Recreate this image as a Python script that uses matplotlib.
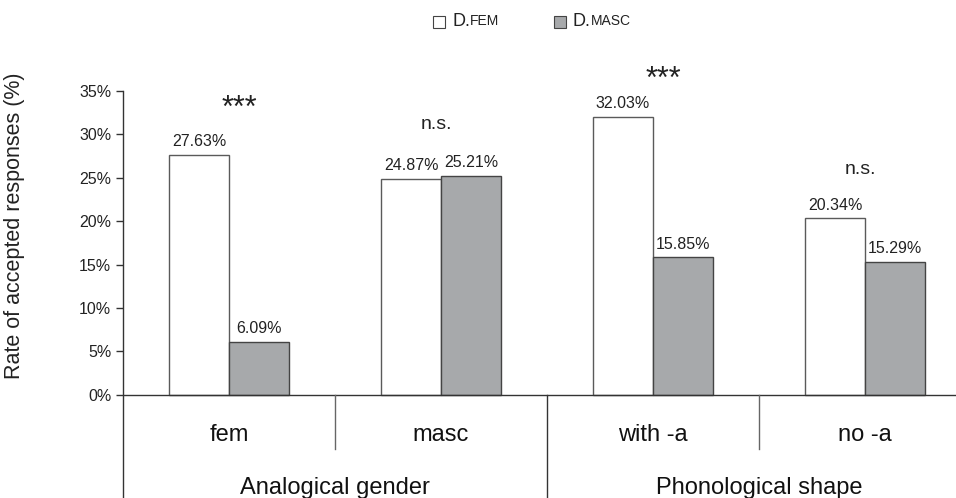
import matplotlib
matplotlib.use("Agg")
import matplotlib.pyplot as plt
from matplotlib.patches import Rectangle

plt.rcParams['font.family'] = ['Liberation Sans', 'DejaVu Sans']

categories = ["fem", "masc", "with -a", "no -a"]
groups = ["Analogical gender", "Phonological shape"]
d_fem = [27.63, 24.87, 32.03, 20.34]
d_masc = [6.09, 25.21, 15.85, 15.29]
sig_labels = ["***", "n.s.", "***", "n.s."]
sig_y = [32.9, 31.1, 36.3, 25.9]
y_ticks = [0, 5, 10, 15, 20, 25, 30, 35]

fem_color = "white"
masc_color = "#a7a9ab"
edge_color = "#5a5a5a"
line_color = "#333333"

fig = plt.figure(figsize=(9.56, 4.98), dpi=100)
# axes run past the right edge of the figure, as in the original
ax = fig.add_axes([123 / 956, 0.0, (971 - 123) / 956, 1 - 91 / 498])

x = list(range(len(categories)))
w = 0.283
ax.bar([i - w / 2 for i in x], d_fem, width=w, color=fem_color,
       edgecolor=edge_color, linewidth=1)
ax.bar([i + w / 2 for i in x], d_masc, width=w, color=masc_color,
       edgecolor="#444444", linewidth=1)

# value labels
for i in x:
    ax.annotate(f"{d_fem[i]:.2f}%", (i - w / 2, d_fem[i]), xytext=(0, 4),
                textcoords="offset points", ha="center", va="bottom",
                fontsize=11.5, color="#222222")
    ax.annotate(f"{d_masc[i]:.2f}%", (i + w / 2, d_masc[i]), xytext=(0, 4),
                textcoords="offset points", ha="center", va="bottom",
                fontsize=11.5, color="#222222")

# significance marks
for i in x:
    if sig_labels[i] == "***":
        ax.text(i + 0.05, sig_y[i], sig_labels[i], ha="center", va="center",
                fontsize=22, color="#222222")
    else:
        ax.text(i - 0.02, sig_y[i], sig_labels[i], ha="center", va="center",
                fontsize=14, color="#222222")

ax.set_xlim(-0.5, 3.5)
ax.set_ylim(-11.9, 35)

ax.axhline(0, color=line_color, linewidth=1)

# separators under the baseline
ax.plot([0.5, 0.5], [0, -6.3], color="#666666", linewidth=1)
ax.plot([2.5, 2.5], [0, -6.3], color="#666666", linewidth=1)
ax.plot([1.5, 1.5], [0, -12], color=line_color, linewidth=1)

for i in x:
    ax.text(i, -4.65, categories[i], ha="center", va="center", fontsize=17,
            color="#111111")
ax.text(0.5, -10.8, groups[0], ha="center", va="center", fontsize=17,
        color="#111111")
ax.text(2.5, -10.8, groups[1], ha="center", va="center", fontsize=17,
        color="#111111")

ax.set_yticks(y_ticks)
ax.set_yticklabels([f"{t}%" for t in y_ticks], fontsize=11.5, color="#222222")
ax.set_xticks([])
ax.tick_params(axis="y", direction="out", length=5, width=1, color=line_color)
for s in ["top", "right", "bottom"]:
    ax.spines[s].set_visible(False)
ax.spines["left"].set_color(line_color)
ax.spines["left"].set_linewidth(1)

ax.set_ylabel("Rate of accepted responses (%)", fontsize=15.5, color="#222222")
ax.yaxis.set_label_coords((25 - 123) / 848, (498 - 226) / (498 - 91))


# legend with small caps
def legend_item(xc, color, small):
    fig.add_artist(Rectangle((xc - 6 / 956, 1 - 28 / 498), 12 / 956, 12 / 498,
                             transform=fig.transFigure, facecolor=color,
                             edgecolor="#444444", linewidth=0.8))
    t = fig.text(xc + 13 / 956, 1 - 22 / 498, "D.", fontsize=13,
                 va="center", color="#222222")
    fig.add_artist(plt.Annotation(small, xy=(1, 0), xycoords=t, xytext=(0, 1.8),
                                  textcoords="offset points", fontsize=10,
                                  va="bottom", ha="left", color="#222222",
                                  annotation_clip=False))


legend_item(439 / 956, fem_color, "FEM")
legend_item(560 / 956, masc_color, "MASC")

fig.savefig("out.png", dpi=100)
